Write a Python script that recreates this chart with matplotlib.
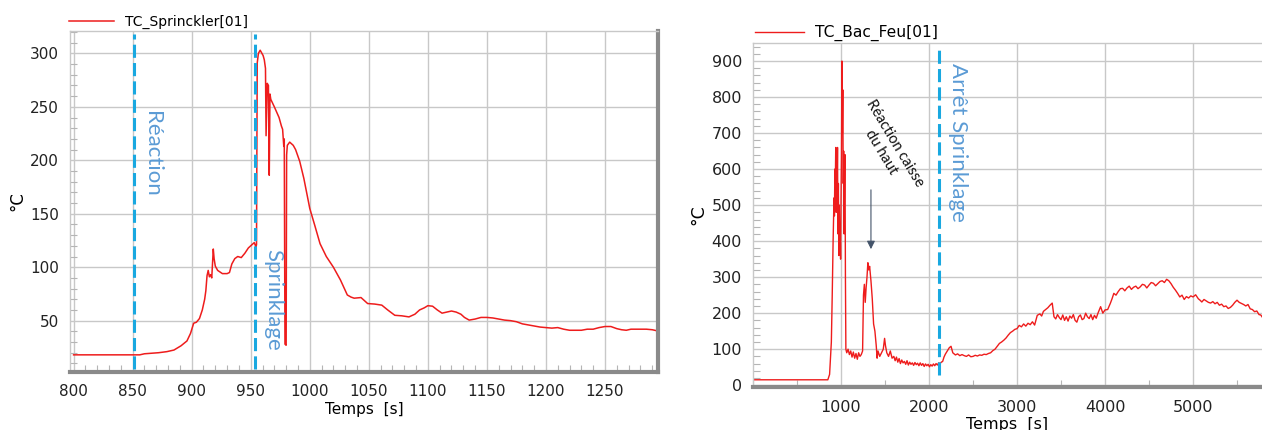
import numpy as np
import matplotlib
matplotlib.use("Agg")
import matplotlib.pyplot as plt
from matplotlib.ticker import MultipleLocator, FixedLocator

# ---- data ----
t_sprink = [800, 850, 856, 860, 866, 872, 879, 885, 891, 896, 899, 901.7, 904, 906.6,
            909, 911, 912, 913, 914, 915, 916, 917, 918.3, 919, 920, 922, 926, 930, 932,
            934, 936.5, 939, 942, 945, 948, 950, 951.7, 953, 954.4, 954.9,
            955.5, 956.5, 958, 960.5, 961.5, 962.5, 963, 964, 965, 965.7, 966.3, 967,
            970, 972, 974, 976, 977, 978, 978.4, 979, 980, 980.4, 981, 983, 986, 988,
            991.5, 995, 1000, 1004, 1008.7, 1014, 1020, 1026, 1031.8, 1035, 1037.6,
            1043.4, 1046, 1049, 1055, 1061, 1066, 1072, 1078, 1084, 1089, 1093, 1097,
            1100, 1104, 1108, 1112, 1116, 1120, 1124, 1128, 1131, 1135, 1140, 1145, 1150,
            1155, 1160, 1165, 1170, 1175, 1180, 1185, 1190, 1195, 1200, 1205, 1210, 1215,
            1220, 1225, 1230, 1235, 1240, 1245, 1250, 1255, 1260, 1264, 1268, 1272, 1276,
            1280, 1285, 1290, 1294]
T_sprink = [18, 18, 18, 19, 19.5, 20, 21, 22.5, 26.5, 31, 38, 47.6, 48.5, 52,
            60, 70, 78, 92, 97, 91, 93, 90, 117, 108, 101, 97, 94, 94, 95,
            103, 108, 110, 109, 113, 118, 120, 121.6, 123, 119, 121,
            291, 300, 303, 298, 294, 286, 223, 272, 270, 186, 262, 257,
            250, 245, 240, 232, 229, 213, 220, 28, 27, 205, 214, 217, 214, 210,
            199, 183, 155, 140, 122, 110, 100, 88, 74, 72, 71,
            71.6, 69, 66, 65.5, 64.5, 60, 55, 54.5, 53.5, 56, 60, 62,
            64, 63.5, 60, 57, 58, 59, 58, 56, 53, 50.5, 51.5, 53, 53,
            52.5, 51.5, 50.5, 50, 49, 47, 46, 45, 44, 43.5, 43, 43.5, 42,
            41, 41, 41, 42, 42, 43.5, 44.5, 44.5, 42.5, 41.5, 41, 42, 42,
            42, 42, 41.5, 40.5]

t_bac = [0, 850, 870, 890, 900, 910, 920, 925, 930, 935, 940, 945, 950, 955, 960,
         965, 970, 975, 980, 985, 990, 995, 1000, 1005, 1010, 1015, 1020, 1025, 1030,
         1035, 1040, 1045, 1050, 1055, 1065, 1080, 1095, 1110, 1125, 1140, 1155, 1170,
         1185, 1200, 1215, 1230, 1245, 1255, 1265, 1275, 1285, 1295, 1305, 1315, 1325,
         1340, 1355, 1370, 1385, 1400, 1410, 1420, 1440, 1460, 1480, 1495, 1505, 1520,
         1540, 1560, 1580, 1600, 1615, 1630, 1645, 1660, 1675, 1690, 1705, 1720, 1735,
         1750, 1765, 1780, 1795, 1810, 1825, 1840, 1855, 1870, 1885,
         1900, 1915, 1930, 1945, 1960, 1975, 1990, 2005, 2020, 2035, 2050, 2065, 2080,
         2095, 2110, 2125, 2140, 2155, 2170, 2185, 2200, 2215, 2230, 2250,
         2270, 2300, 2325, 2350, 2375, 2400, 2425, 2450, 2475, 2500, 2525, 2550, 2575,
         2600, 2625, 2650, 2675, 2700, 2725, 2750, 2775, 2800, 2825, 2850, 2875,
         2900, 2925, 2950, 2975, 3000, 3025, 3050, 3075, 3100, 3125, 3150, 3175, 3200,
         3230, 3260, 3280, 3300, 3325, 3350, 3375, 3400, 3420,
         3440, 3460, 3480, 3500, 3520, 3540, 3560, 3580, 3600, 3620, 3640, 3660, 3680,
         3700, 3720, 3740, 3760, 3780, 3800, 3820, 3840, 3860, 3880, 3900, 3920,
         3950, 3975, 4000, 4030, 4060, 4080, 4100, 4125, 4150, 4175, 4200, 4225, 4250,
         4275, 4300, 4325, 4350, 4375, 4400, 4425, 4450, 4475, 4500,
         4525, 4550, 4575, 4600, 4625, 4650, 4675, 4700, 4725, 4750, 4775, 4800, 4825,
         4850, 4875, 4900, 4925, 4950, 4975, 5000, 5030, 5060, 5080, 5100,
         5125, 5150, 5175, 5200, 5225, 5250, 5275, 5300, 5325, 5350, 5375, 5400, 5425,
         5450, 5475, 5500, 5525, 5550, 5575, 5600, 5625, 5650, 5675, 5700, 5725, 5750,
         5770, 5790]
T_bac = [15, 15, 30, 120, 250, 400, 520, 470, 600, 560, 660, 480, 650, 540, 660,
         420, 560, 360, 500, 380, 440, 350, 520, 640, 900, 700, 820, 560, 650,
         420, 600, 640, 300, 100, 90, 100, 85, 95, 78, 92, 75, 88,
         72, 90, 80, 85, 95, 250, 280, 230, 270, 300, 340, 320, 330,
         290, 240, 170, 150, 110, 75, 95, 80, 90, 100, 130, 110, 90,
         80, 95, 75, 80, 68, 78, 64, 74, 60, 70, 62, 66, 58,
         68, 56, 64, 58, 62, 55, 63, 57, 61, 54,
         62, 55, 60, 52, 59, 54, 58, 51, 57, 53, 59, 54, 60,
         56, 62, 60, 64, 66, 78, 86, 92, 98, 104, 108,
         90, 84, 87, 82, 85, 82, 80, 84, 79, 80, 83, 81, 84,
         83, 86, 85, 88, 90, 96, 100, 108, 116, 120, 125, 131,
         139, 146, 150, 155, 157, 166, 162, 170, 164, 172, 168, 176, 167,
         194, 198, 192, 205, 210, 215, 222, 228, 190,
         184, 196, 188, 182, 195, 180, 190, 178, 192, 186, 196, 180, 175,
         190, 195, 182, 185, 200, 190, 185, 196, 182, 194, 186, 200,
         218, 200, 209, 210, 227, 240, 255, 250, 260, 268, 269, 262, 270,
         275, 266, 272, 275, 268, 273, 280, 278, 270, 278,
         285, 283, 276, 282, 288, 290, 285, 294, 290, 282, 272, 264, 255,
         245, 250, 238, 246, 242, 248, 245, 251, 240, 236, 231,
         238, 234, 230, 228, 232, 226, 230, 222, 225, 218, 220, 213, 216,
         222, 230, 236, 230, 227, 224, 220, 224, 212, 210, 204, 206, 196,
         195, 188]

red = '#ee1c1c'
blue_line = '#19a8e0'
blue_txt = '#5b9bd5'
grid_c = '#c8c8c8'
shadow = '#8a8a8a'

fig = plt.figure(figsize=(12.62, 4.30), dpi=100)
ax1 = fig.add_axes([0.0555, 0.135, 0.466, 0.793])
ax2 = fig.add_axes([0.5967, 0.10, 0.4033, 0.80])


def style(ax, xmaj, xmin, ymaj, ymin, fs):
    ax.xaxis.set_major_locator(MultipleLocator(xmaj))
    ax.xaxis.set_minor_locator(MultipleLocator(xmin))
    ax.yaxis.set_major_locator(MultipleLocator(ymaj))
    ax.yaxis.set_minor_locator(MultipleLocator(ymin))
    ax.grid(True, which='major', color=grid_c, lw=1)
    ax.set_axisbelow(True)
    ax.tick_params(which='major', length=0, labelsize=fs, colors='#222222')
    ax.tick_params(which='minor', direction='in', length=5, color='#b5b5b5', width=0.8)
    ax.tick_params(axis='x', pad=9)
    ax.tick_params(axis='y', pad=8)
    for s in ['top', 'left']:
        ax.spines[s].set_color(grid_c)
        ax.spines[s].set_linewidth(1)
    ax.spines['bottom'].set_color(shadow)
    ax.spines['bottom'].set_linewidth(3)
    ax.spines['right'].set_color(shadow)
    ax.spines['right'].set_linewidth(3)
    ax.set_xlabel('Temps  [s]', fontsize=fs, labelpad=2)
    ax.set_ylabel('°C', fontsize=fs + 1)


# ---- left: TC_Sprinckler ----
ax1.plot(t_sprink, T_sprink, color=red, lw=1.1, label='TC_Sprinckler[01]')
ax1.set_xlim(797, 1295)
ax1.set_ylim(2, 321)
style(ax1, 50, 10, 50, 10, 11)
ax1.yaxis.set_label_coords(-0.075, 0.5)
for xv in [851, 954]:
    ax1.plot([xv, xv], [5, 318], color=blue_line, lw=2.2, dashes=(4.3, 1.7))
ax1.text(866, 206, 'Réaction', rotation=-90, color=blue_txt, fontsize=16,
         family='Lato', ha='center', va='center')
ax1.text(969, 69, 'Sprinklage', rotation=-90, color=blue_txt, fontsize=16,
         family='Lato', ha='center', va='center')
ax1.legend(loc='lower left', bbox_to_anchor=(-0.005, 1.0), frameon=False,
           fontsize=10, handlelength=3.2, handletextpad=0.8, borderpad=0.15,
           borderaxespad=0)

# ---- right: TC_Bac_Feu ----
ax2.plot(t_bac, T_bac, color=red, lw=1.0, label='TC_Bac_Feu[01]')
ax2.set_xlim(0, 5784)
ax2.set_ylim(-5, 950)
style(ax2, 1000, 500, 100, 20, 11.5)
ax2.xaxis.set_major_locator(FixedLocator([1000, 2000, 3000, 4000, 5000]))
ax2.spines['right'].set_visible(False)
ax2.yaxis.set_label_coords(-0.09, 0.5)
ax2.plot([2114, 2114], [28, 936], color=blue_line, lw=2.2, dashes=(4.3, 1.7))
ax2.text(2330, 675, 'Arrêt Sprinklage', rotation=-90, color=blue_txt, fontsize=16,
         family='Lato', ha='center', va='center')
ax2.text(1534, 660, 'Réaction caisse\ndu haut', rotation=-59, fontsize=10.5,
         family='Lato', ha='center', va='center', color='#111111',
         rotation_mode='anchor')
ax2.annotate('', xy=(1340, 370), xytext=(1340, 550),
             arrowprops=dict(arrowstyle='-|>', color='#44546a', lw=0.8,
                             mutation_scale=12))
ax2.legend(loc='lower left', bbox_to_anchor=(0.0, 1.0), frameon=False,
           fontsize=11.2, handlelength=3.2, handletextpad=0.7, borderpad=0.1,
           borderaxespad=0)

fig.savefig('out.png', dpi=100)
